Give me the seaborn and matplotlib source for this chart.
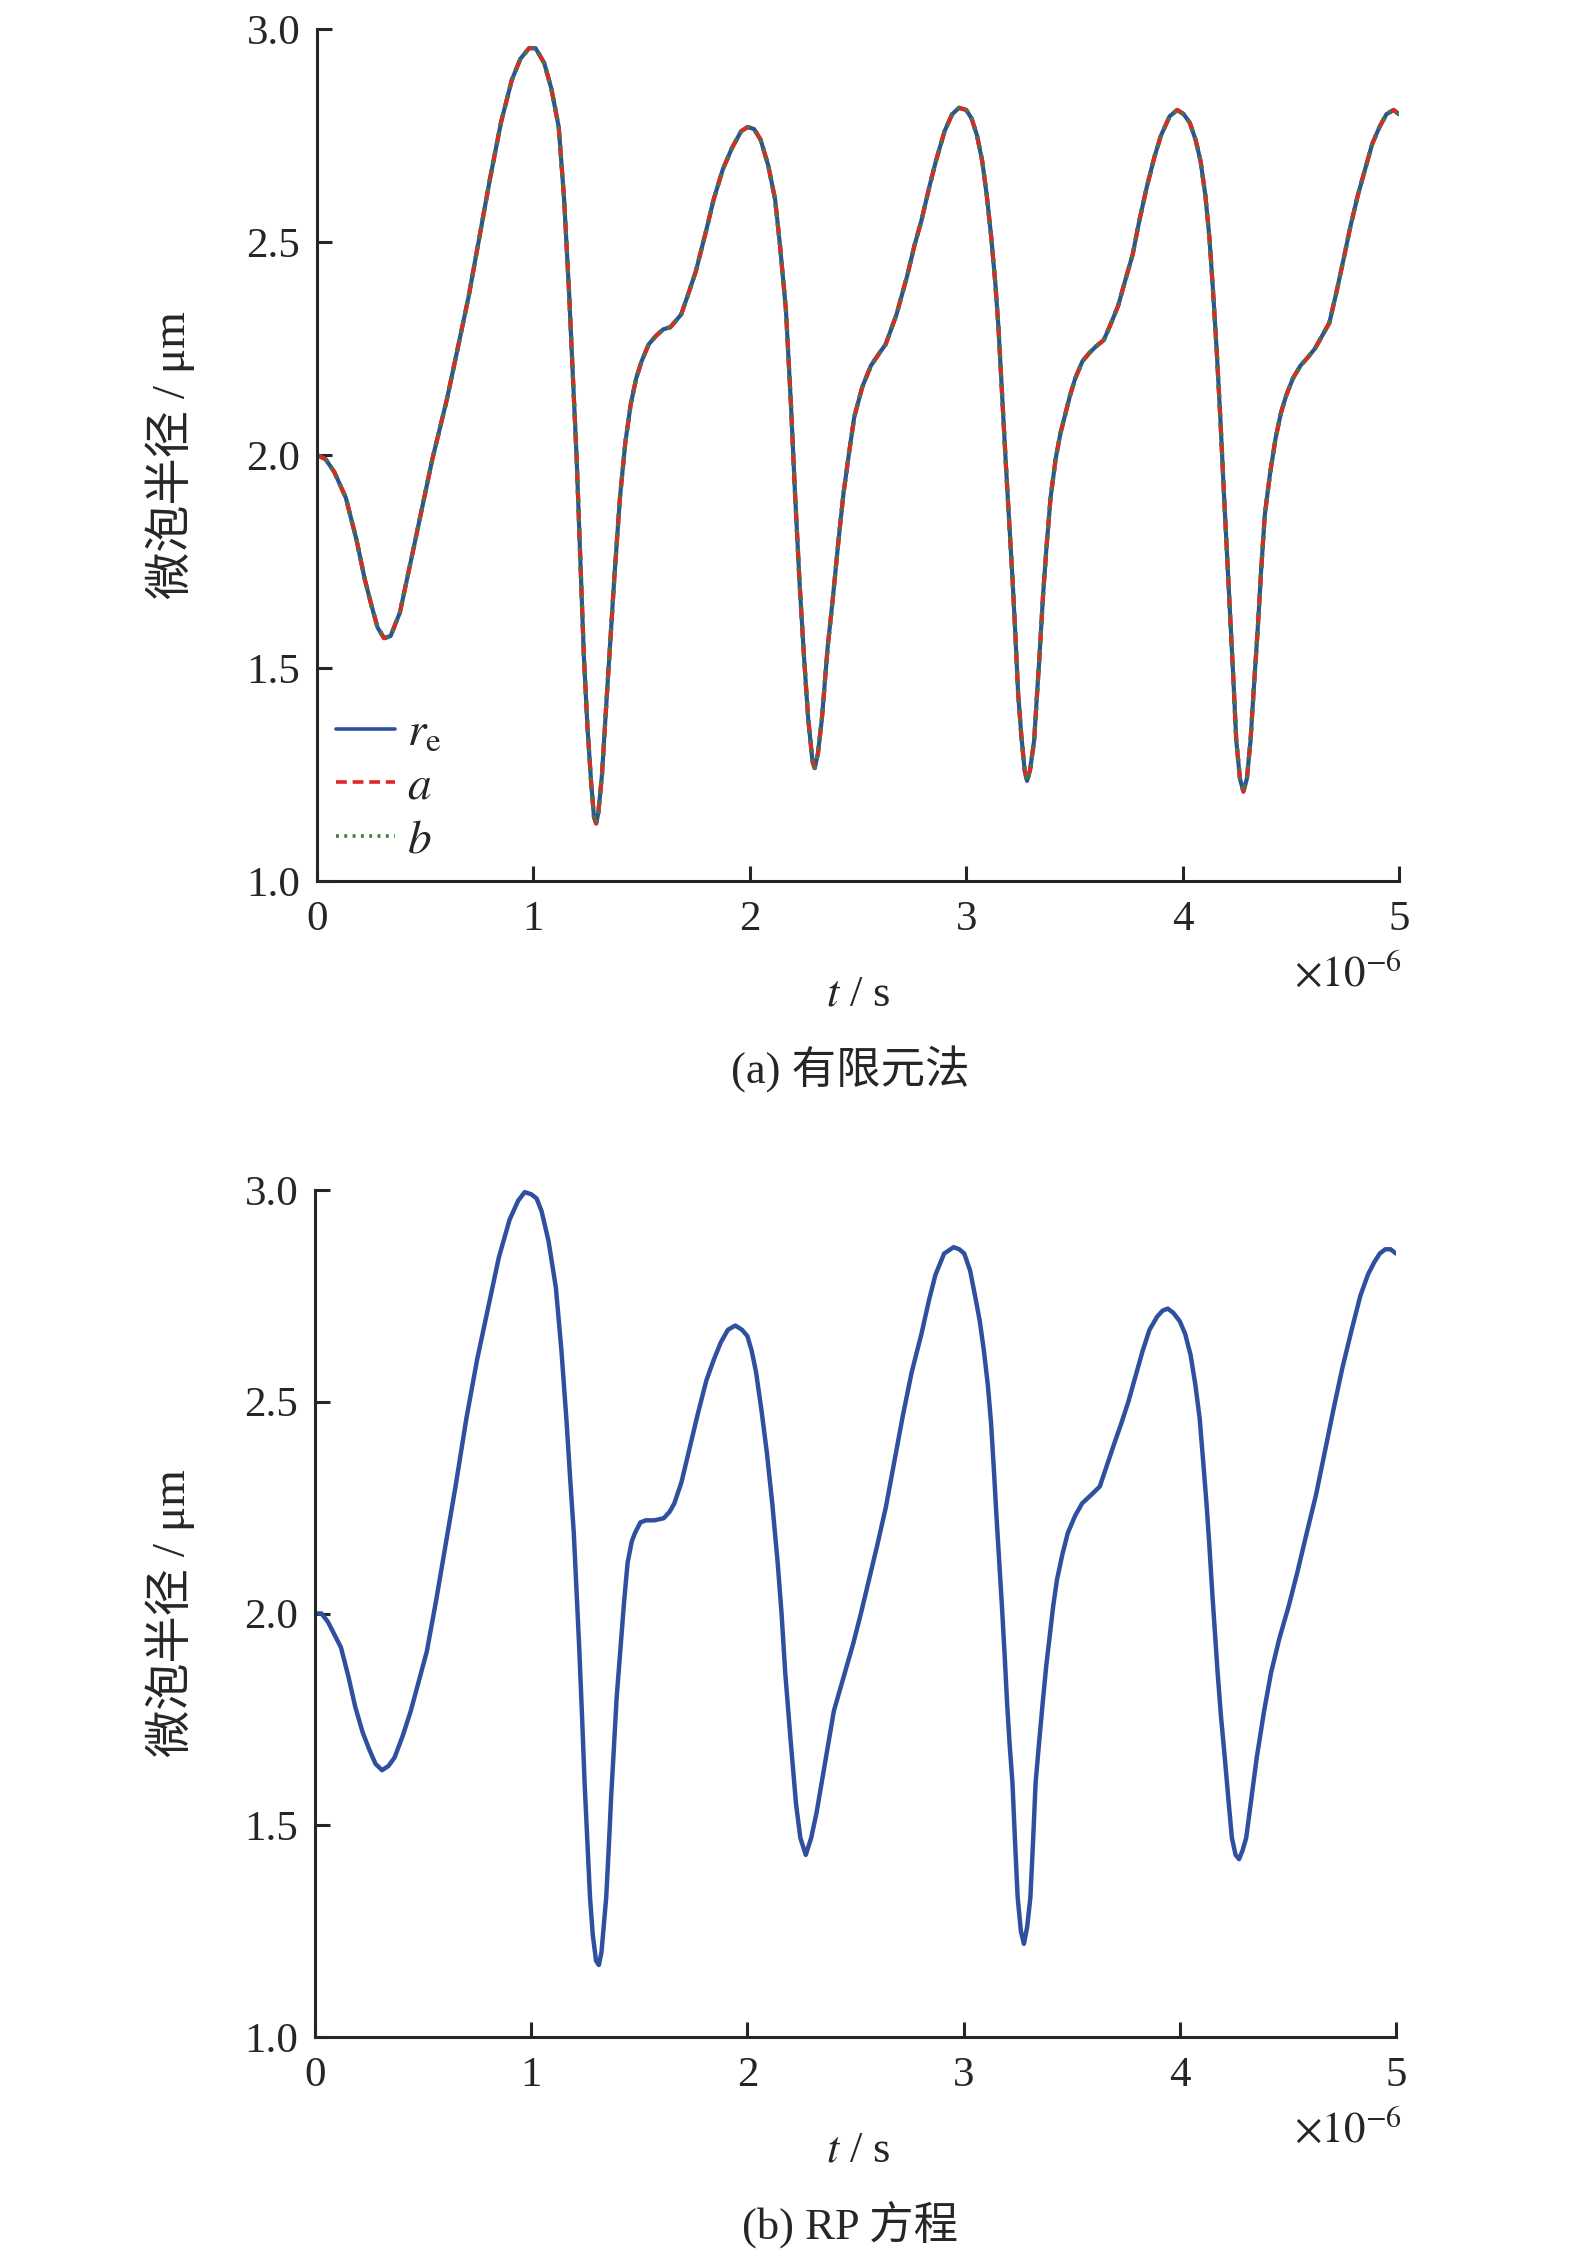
import matplotlib
matplotlib.use('Agg')
import matplotlib.pyplot as plt
import seaborn as sns

# (a) finite element: time in units of 1e-6 s, radius in um
t_fem = [0, 0.04, 0.08, 0.133, 0.183, 0.22, 0.25, 0.28, 0.31, 0.34, 0.383, 0.45, 0.533, 0.60,
         0.70, 0.80, 0.85, 0.90, 0.94, 0.98, 1.01, 1.05, 1.083, 1.117, 1.142, 1.165, 1.183, 1.20,
         1.217, 1.233, 1.25, 1.267, 1.28, 1.29, 1.30, 1.317, 1.335, 1.35, 1.375, 1.40, 1.425,
         1.45, 1.475, 1.50, 1.533, 1.567, 1.60, 1.633, 1.683, 1.717, 1.75, 1.80, 1.833, 1.875,
         1.917, 1.96, 1.99, 2.02, 2.05, 2.085, 2.117, 2.14, 2.167, 2.19, 2.208, 2.23, 2.25, 2.27,
         2.29, 2.30, 2.315, 2.333, 2.36, 2.383, 2.41, 2.433, 2.46, 2.483, 2.52, 2.56, 2.60, 2.628,
         2.678, 2.727, 2.76, 2.793, 2.83, 2.86, 2.90, 2.935, 2.967, 3.0, 3.025, 3.05, 3.074, 3.095,
         3.116, 3.135, 3.149, 3.165, 3.182, 3.20, 3.215, 3.228, 3.24, 3.255, 3.27, 3.281, 3.295,
         3.314, 3.325, 3.339, 3.355, 3.372, 3.39, 3.413, 3.435, 3.455, 3.48, 3.504, 3.537, 3.57,
         3.60, 3.636, 3.67, 3.702, 3.735, 3.769, 3.80, 3.835, 3.87, 3.90, 3.94, 3.975, 4.005,
         4.033, 4.06, 4.083, 4.105, 4.124, 4.14, 4.157, 4.175, 4.19, 4.207, 4.223, 4.236, 4.248,
         4.265, 4.281, 4.297, 4.314, 4.33, 4.347, 4.363, 4.38, 4.405, 4.43, 4.455, 4.479, 4.51,
         4.545, 4.58, 4.612, 4.645, 4.678, 4.71, 4.744, 4.777, 4.81, 4.843, 4.876, 4.91, 4.942,
         4.975, 5.0]
re_fem = [2.00, 1.99, 1.96, 1.90, 1.80, 1.71, 1.65, 1.595, 1.57, 1.575, 1.63, 1.79, 1.99, 2.13,
          2.37, 2.65, 2.78, 2.88, 2.93, 2.955, 2.955, 2.92, 2.86, 2.77, 2.60, 2.38, 2.18, 1.99,
          1.75, 1.53, 1.36, 1.23, 1.15, 1.135, 1.16, 1.25, 1.40, 1.52, 1.72, 1.90, 2.03,
          2.12, 2.18, 2.22, 2.26, 2.28, 2.295, 2.30, 2.33, 2.38, 2.43, 2.53, 2.60, 2.67,
          2.72, 2.76, 2.77, 2.765, 2.74, 2.68, 2.60, 2.49, 2.34, 2.12, 1.92, 1.70, 1.53, 1.38,
          1.28, 1.265, 1.30, 1.38, 1.55, 1.66, 1.80, 1.91, 2.01, 2.09, 2.16, 2.21, 2.24, 2.26,
          2.33, 2.42, 2.49, 2.55, 2.63, 2.69, 2.76, 2.80, 2.815, 2.81, 2.79, 2.75, 2.69, 2.61,
          2.51, 2.40, 2.30, 2.15, 1.99, 1.83, 1.70, 1.57, 1.44, 1.34, 1.26, 1.235, 1.26,
          1.33, 1.42, 1.53, 1.67, 1.79, 1.90, 1.99, 2.05, 2.09, 2.14, 2.18, 2.22, 2.24,
          2.255, 2.27, 2.31, 2.35, 2.41, 2.47, 2.55, 2.63, 2.70, 2.75, 2.795, 2.81, 2.80,
          2.78, 2.74, 2.69, 2.61, 2.51, 2.39, 2.25, 2.08, 1.92, 1.75, 1.59, 1.46, 1.33,
          1.24, 1.21, 1.24, 1.33, 1.46, 1.59, 1.73, 1.86, 1.96, 2.04, 2.10, 2.14, 2.18,
          2.21, 2.23, 2.25, 2.28, 2.31, 2.38, 2.46, 2.54, 2.61, 2.67, 2.73, 2.77, 2.80,
          2.81, 2.80]
a_fem = re_fem
b_fem = re_fem

# (b) Rayleigh-Plesset equation
t_rp = [0, 0.03, 0.06, 0.09, 0.12, 0.155, 0.186, 0.22, 0.25, 0.28, 0.31, 0.34, 0.368, 0.405,
        0.443, 0.48, 0.517, 0.56, 0.60, 0.65, 0.70, 0.75, 0.80, 0.85, 0.90, 0.94, 0.97, 1.0,
        1.025, 1.048, 1.08, 1.114, 1.14, 1.164, 1.18, 1.197, 1.21, 1.222, 1.235, 1.247, 1.26,
        1.272, 1.285, 1.30, 1.313, 1.325, 1.335, 1.347, 1.36, 1.37, 1.38, 1.395, 1.413, 1.43,
        1.446, 1.465, 1.48, 1.505, 1.53, 1.57, 1.613, 1.64, 1.662, 1.695, 1.728, 1.77, 1.81,
        1.845, 1.877, 1.91, 1.944, 1.975, 2.0, 2.02, 2.04, 2.065, 2.09, 2.115, 2.14, 2.158,
        2.175, 2.20, 2.225, 2.245, 2.27, 2.295, 2.32, 2.36, 2.40, 2.445, 2.49, 2.525, 2.558,
        2.60, 2.64, 2.68, 2.72, 2.76, 2.805, 2.84, 2.87, 2.91, 2.954, 2.98, 3.003, 3.03, 3.053,
        3.075, 3.094, 3.112, 3.127, 3.14, 3.152, 3.165, 3.177, 3.19, 3.201, 3.213, 3.226, 3.238,
        3.25, 3.265, 3.279, 3.294, 3.309, 3.322, 3.333, 3.35, 3.366, 3.383, 3.399, 3.415, 3.432,
        3.457, 3.482, 3.515, 3.548, 3.59, 3.63, 3.663, 3.696, 3.73, 3.762, 3.795, 3.828, 3.86,
        3.894, 3.92, 3.944, 3.97, 4.0, 4.025, 4.05, 4.072, 4.092, 4.108, 4.125, 4.138, 4.15,
        4.163, 4.175, 4.19, 4.208, 4.225, 4.241, 4.258, 4.274, 4.29, 4.307, 4.33, 4.356, 4.39,
        4.422, 4.46, 4.505, 4.545, 4.587, 4.63, 4.67, 4.71, 4.752, 4.795, 4.835, 4.87, 4.90,
        4.925, 4.95, 4.975, 5.0]
r_rp = [2.00, 2.00, 1.98, 1.95, 1.92, 1.85, 1.78, 1.72, 1.68, 1.645, 1.63, 1.64, 1.66, 1.71,
        1.77, 1.84, 1.91, 2.03, 2.15, 2.30, 2.46, 2.60, 2.72, 2.84, 2.93, 2.975, 2.995, 2.99,
        2.98, 2.95, 2.88, 2.77, 2.62, 2.45, 2.32, 2.19, 2.05, 1.92, 1.76, 1.60, 1.46,
        1.33, 1.24, 1.18, 1.17, 1.20, 1.26, 1.33, 1.46, 1.57, 1.66, 1.80, 1.92, 2.03,
        2.12, 2.17, 2.19, 2.215, 2.22, 2.22, 2.225, 2.24, 2.26, 2.31, 2.38, 2.47, 2.55,
        2.60, 2.64, 2.67, 2.68, 2.67, 2.655, 2.62, 2.57, 2.48, 2.38, 2.26, 2.12, 2.00,
        1.86, 1.70, 1.55, 1.47, 1.43, 1.47, 1.53, 1.65, 1.77, 1.85, 1.93, 2.00, 2.07,
        2.16, 2.25, 2.36, 2.47, 2.57, 2.66, 2.74, 2.80, 2.85, 2.865, 2.86, 2.85, 2.81, 2.75,
        2.69, 2.62, 2.54, 2.45, 2.34, 2.23, 2.12, 2.02, 1.90, 1.79, 1.69, 1.60, 1.46,
        1.33, 1.25, 1.22, 1.26, 1.33, 1.47, 1.60, 1.70, 1.79, 1.88, 1.95, 2.02, 2.08,
        2.14, 2.19, 2.23, 2.26, 2.28, 2.30, 2.35, 2.40, 2.45, 2.50, 2.56, 2.62, 2.67,
        2.70, 2.715, 2.72, 2.71, 2.69, 2.66, 2.61, 2.54, 2.46, 2.36, 2.25, 2.15, 2.05,
        1.95, 1.86, 1.76, 1.66, 1.56, 1.47, 1.43, 1.42, 1.44, 1.47, 1.56, 1.66, 1.77,
        1.86, 1.94, 2.02, 2.10, 2.19, 2.28, 2.38, 2.48, 2.58, 2.67, 2.75, 2.80, 2.83,
        2.85, 2.86, 2.86, 2.85]

x_ticks = [0, 1, 2, 3, 4, 5]
y_ticks = [1.0, 1.5, 2.0, 2.5, 3.0]

sns.set_style('ticks')
plt.rcParams['font.family'] = ['Liberation Serif', 'Noto Sans CJK SC']
plt.rcParams['mathtext.fontset'] = 'stix'
plt.rcParams['axes.linewidth'] = 2.2

W, H = 1575, 2266
fig = plt.figure(figsize=(W / 100, H / 100), dpi=100)

blue = '#2f4f9f'
red = '#e0262b'
green = '#3e7d3e'
lw = 3.0


def style_axes(ax):
    ax.set_xlim(0, 5)
    ax.set_ylim(1.0, 3.0)
    ax.set_xticks(x_ticks)
    ax.set_yticks(y_ticks)
    ax.set_xticklabels([str(v) for v in x_ticks])
    ax.set_yticklabels([f'{v:.1f}' for v in y_ticks])
    ax.tick_params(direction='in', length=11, width=2.2, labelsize=31, pad=12)
    ax.tick_params(axis='x', pad=14)
    sns.despine(ax=ax)
    ax.set_xlabel('')
    ax.set_ylabel('')


ax1 = fig.add_axes([317 / W, 1 - 881 / H, (1399 - 317) / W, (881 - 29) / H])
sns.lineplot(x=t_fem, y=re_fem, ax=ax1, color=blue, lw=lw, sort=False, label=r'$r_\mathrm{e}$')
sns.lineplot(x=t_fem, y=a_fem, ax=ax1, color=red, lw=lw, sort=False, label=r'$a$')
sns.lineplot(x=t_fem, y=b_fem, ax=ax1, color=green, lw=lw, sort=False, label=r'$b$')
lines = ax1.get_lines()
lines[1].set_dashes([3.0, 1.6])
lines[2].set_dashes([0.8, 1.5])
style_axes(ax1)
leg = ax1.legend(loc='lower left', bbox_to_anchor=(0.0, 0.0), frameon=False, fontsize=34,
                 handlelength=1.25, handletextpad=0.25, labelspacing=0.22, borderpad=0.1,
                 borderaxespad=0.3)
for h in leg.get_lines():
    h.set_linewidth(2.6)

ax2 = fig.add_axes([315 / W, 1 - 2037 / H, (1396 - 315) / W, (2037 - 1190) / H])
sns.lineplot(x=t_rp, y=r_rp, ax=ax2, color=blue, lw=3.2, sort=False)
style_axes(ax2)

# axis labels, multipliers and captions
for top, bottom, caption in [(29, 881, '(a) 有限元法'), (1190, 2037, '(b) RP 方程')]:
    fig.text(170 / W, 1 - (top + bottom) / 2 / H, '微泡半径 / μm', rotation=90,
             ha='center', va='center', fontsize=34)
    fig.text(1402 / W, 1 - (bottom + 94) / H, r'$\times10^{-6}$', ha='right', va='center',
             fontsize=31)
    fig.text(858 / W, 1 - (bottom + 114) / H, r'$t$ / s', ha='center', va='center', fontsize=32)
    fig.text(850 / W, 1 - (bottom + 188) / H, caption, ha='center', va='center', fontsize=32)

fig.savefig('out.png', dpi=100)
